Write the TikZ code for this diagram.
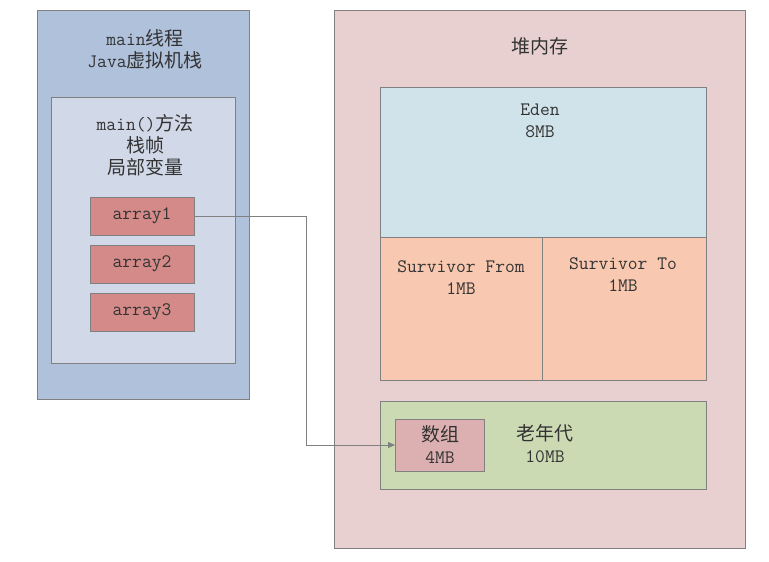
\documentclass[tikz,border=0pt]{standalone}
\usepackage{fontspec}
\newfontfamily\cjk{Noto Sans CJK SC}
\usetikzlibrary{arrows.meta}
\definecolor{stackblue}{RGB}{176,193,220}
\definecolor{framegray}{RGB}{209,216,231}
\definecolor{arrred}{RGB}{212,138,136}
\definecolor{heappink}{RGB}{232,208,208}
\definecolor{edenblue}{RGB}{208,226,234}
\definecolor{survorange}{RGB}{248,200,176}
\definecolor{oldgreen}{RGB}{204,218,180}
\definecolor{objpink}{RGB}{220,176,176}
\definecolor{edgegray}{RGB}{128,128,128}
\tikzset{
  box/.style={draw=edgegray, line width=1pt},
  varbox/.style={box, fill=arrred, minimum width=104pt, minimum height=38pt, inner sep=0pt},
  conn/.style={draw=edgegray, line width=0.8pt, -{Triangle[length=7pt,width=6pt]}}
}

\begin{document}
\begin{tikzpicture}[x=1pt,y=-1pt, every node/.style={font=\ttfamily\fontsize{19}{22}\selectfont, text=black!80, align=center}]
\useasboundingbox (0,0) rectangle (769,562);
\fill[white] (0,0) rectangle (769,562);
\draw[box, fill=stackblue] (37,10) rectangle (249,399);
\draw[box, fill=framegray] (51,97) rectangle (235,363);
\node (stacktitle) at (145,49) {main{\cjk 线程}\\Java{\cjk 虚拟机栈}};
\node (frametitle) at (145,145) {main(){\cjk 方法}\\{\cjk 栈帧}\\{\cjk 局部变量}};
\node[varbox] (array1) at (142,216) {array1};
\node[varbox] (array2) at (142,264) {array2};
\node[varbox] (array3) at (142,312) {array3};
\draw[box, fill=heappink] (334,10) rectangle (745,548);
\node (heaptitle) at (540,46) {\cjk 堆内存};
\draw[box, fill=edenblue] (380,87) rectangle (706,237);
\node (eden) at (540,121) {Eden\\8MB};
\draw[box, fill=survorange] (380,237) rectangle (542,380);
\draw[box, fill=survorange] (542,237) rectangle (706,380);
\node (from) at (461,278) {Survivor From\\1MB};
\node (to) at (623,275) {Survivor To\\1MB};
\draw[box, fill=oldgreen] (380,401) rectangle (706,489);
\node (old) at (545,444) {{\cjk 老年代}\\10MB};
\node[box, fill=objpink, minimum width=89pt, minimum height=52pt, inner sep=0pt] (obj) at (440,445) {{\cjk 数组}\\4MB};
\draw[conn] (array1.east) -- ++(112,0) |- (obj.west);
\end{tikzpicture}
\end{document}
